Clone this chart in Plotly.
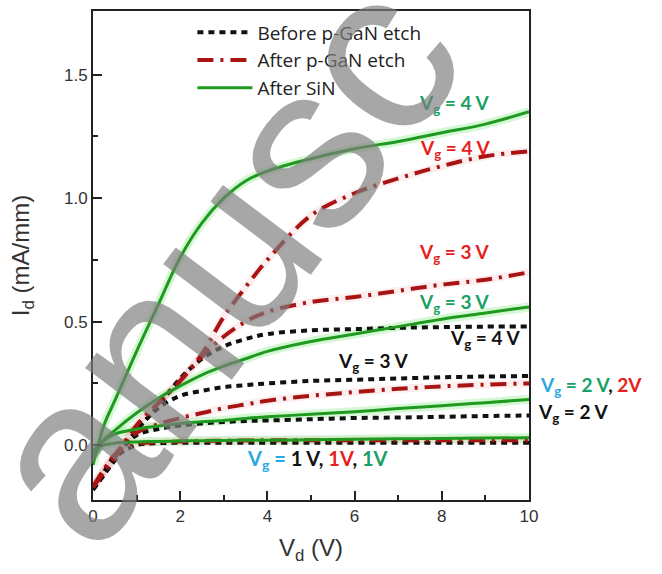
import plotly.graph_objects as go

# ---------------- data ----------------
vd = [0, 0.25, 0.5, 1, 1.5, 2, 2.5, 3, 3.5, 4, 5, 6, 7, 8, 9, 10]

# Before p-GaN etch (black dotted)
before_1v = [-0.18, -0.11, -0.05, 0.0, 0.008, 0.01, 0.01, 0.01, 0.01, 0.01, 0.01, 0.01, 0.01, 0.01, 0.01, 0.01]
before_2v = [-0.18, -0.11, -0.04, 0.04, 0.065, 0.08, 0.088, 0.094, 0.098, 0.10, 0.105, 0.11, 0.112, 0.115, 0.118, 0.12]
before_3v = [-0.18, -0.12, -0.06, 0.06, 0.15, 0.20, 0.22, 0.235, 0.243, 0.25, 0.26, 0.265, 0.27, 0.275, 0.278, 0.28]
before_4v = [-0.18, -0.12, -0.06, 0.06, 0.16, 0.27, 0.35, 0.40, 0.43, 0.45, 0.465, 0.47, 0.475, 0.478, 0.48, 0.48]

# After p-GaN etch (red dash-dot)
etch_1v = [-0.17, -0.10, -0.04, 0.005, 0.012, 0.015, 0.017, 0.018, 0.019, 0.02, 0.02, 0.02, 0.02, 0.02, 0.02, 0.02]
etch_2v = [-0.17, -0.10, -0.04, 0.05, 0.085, 0.11, 0.13, 0.15, 0.165, 0.18, 0.20, 0.215, 0.228, 0.238, 0.245, 0.25]
etch_3v = [-0.17, -0.11, -0.05, 0.08, 0.17, 0.26, 0.36, 0.44, 0.50, 0.54, 0.58, 0.60, 0.625, 0.65, 0.67, 0.70]
etch_4v = [-0.17, -0.11, -0.05, 0.08, 0.17, 0.26, 0.37, 0.52, 0.64, 0.75, 0.93, 1.02, 1.08, 1.13, 1.17, 1.19]

# After SiN (green solid)
sin_1v = [-0.02, 0.0, 0.008, 0.013, 0.015, 0.017, 0.018, 0.019, 0.02, 0.02, 0.022, 0.024, 0.026, 0.027, 0.029, 0.03]
sin_2v = [-0.03, 0.02, 0.045, 0.065, 0.078, 0.088, 0.095, 0.10, 0.108, 0.115, 0.125, 0.135, 0.148, 0.16, 0.172, 0.185]
sin_3v = [-0.05, 0.02, 0.06, 0.13, 0.19, 0.24, 0.285, 0.32, 0.35, 0.38, 0.42, 0.45, 0.48, 0.51, 0.535, 0.56]
sin_4v = [-0.08, 0.08, 0.18, 0.38, 0.57, 0.76, 0.90, 1.00, 1.07, 1.11, 1.16, 1.20, 1.23, 1.265, 1.30, 1.35]

legend_names = ["Before p-GaN etch", "After p-GaN etch", "After SiN"]
x_ticks = [0, 2, 4, 6, 8, 10]
y_ticks = [0.0, 0.5, 1.0, 1.5]
y_tick_text = ["0.0", "0.5", "1.0", "1.5"]

# ---------------- styles ----------------
BLACK = "#111111"
RED_LINE = "#a81414"
GREEN_LINE = "#1f9a1f"
GREEN_TXT = "#19a065"
RED_TXT = "#e61e1e"
BLUE_TXT = "#2aa8e0"

fig = go.Figure()

# glow under green / red lines
for ys in [sin_1v, sin_2v, sin_3v, sin_4v]:
    fig.add_trace(go.Scatter(x=vd, y=ys, mode="lines", showlegend=False, hoverinfo="skip",
                             line=dict(color="rgba(60,220,60,0.22)", width=9, shape="spline")))
for ys in [etch_1v, etch_2v, etch_3v, etch_4v]:
    fig.add_trace(go.Scatter(x=vd, y=ys, mode="lines", showlegend=False, hoverinfo="skip",
                             line=dict(color="rgba(240,120,120,0.12)", width=8, shape="spline")))

groups = [
    (legend_names[0], [before_1v, before_2v, before_3v, before_4v],
     dict(color=BLACK, width=4, dash="6px,5px", shape="spline")),
    (legend_names[1], [etch_1v, etch_2v, etch_3v, etch_4v],
     dict(color=RED_LINE, width=4, dash="16px,7px,3px,7px", shape="spline")),
    (legend_names[2], [sin_1v, sin_2v, sin_3v, sin_4v],
     dict(color=GREEN_LINE, width=3, shape="spline")),
]
for name, series, style in groups:
    for i, ys in enumerate(series):
        fig.add_trace(go.Scatter(x=vd, y=ys, mode="lines", name=name, legendgroup=name,
                                 showlegend=(i == 0), line=style))

def lab(text, x, y, size=19, xref="x"):
    fig.add_annotation(x=x, y=y, xref=xref, yref="y", text=text, showarrow=False,
                       font=dict(family="Lato", size=size, color=BLACK),
                       xanchor="center", yanchor="middle")

def c(t, col):
    return f"<span style='color:{col}'>{t}</span>"

lab(c("<b>V<sub>g</sub> = 4 V</b>", GREEN_TXT), 8.28, 1.38)
lab(c("<b>V<sub>g</sub> = 4 V</b>", RED_TXT), 8.30, 1.20)
lab(c("<b>V<sub>g</sub> = 3 V</b>", RED_TXT), 8.28, 0.78)
lab(c("<b>V<sub>g</sub> = 3 V</b>", GREEN_TXT), 8.28, 0.575)
lab(c("<b>V<sub>g</sub> = 4 V</b>", BLACK), 8.99, 0.43)
lab(c("<b>V<sub>g</sub> = 3 V</b>", BLACK), 6.42, 0.335)
lab(c("<b>V<sub>g</sub></b>", BLUE_TXT) + c("<b> = 2 V</b>", GREEN_TXT) + c("<b>, </b>", BLACK)
    + c("<b>2V</b>", RED_TXT), 1.142, 0.24, xref="paper")
lab(c("<b>V<sub>g</sub> = 2 V</b>", BLACK), 1.101, 0.13, xref="paper")
lab(c("<b>V<sub>g</sub> =</b>", BLUE_TXT) + c("<b> 1 V, </b>", BLACK) + c("<b>1V</b>", RED_TXT)
    + c("<b>, </b>", BLACK) + c("<b>1V</b>", GREEN_TXT), 5.16, -0.06, size=20)

# watermark fragment
fig.add_annotation(xref="paper", yref="paper", x=0.29, y=0.49, text="anusc",
                   showarrow=False, textangle=-53, xanchor="center", yanchor="middle",
                   font=dict(family="Liberation Sans", size=235, color="rgba(125,125,125,0.68)"))

axis_font = dict(family="Liberation Sans", size=17, color="#333333")
fig.update_xaxes(range=[0, 10], tickvals=x_ticks, ticks="inside", ticklen=9, tickwidth=1.5,
                 tickcolor="#222", showline=True, linecolor="#222", linewidth=2, mirror=True,
                 showgrid=False, zeroline=False, tickfont=axis_font,
                 minor=dict(tickvals=[1, 3, 5, 7, 9], ticks="inside", ticklen=5, tickwidth=1.5, tickcolor="#222"),
                 title=dict(text="V<sub>d</sub> (V)", font=dict(family="Liberation Sans", size=24, color="#333"),
                            standoff=14))
fig.update_yaxes(range=[-0.222, 1.758], tickvals=y_ticks, ticktext=y_tick_text, ticks="inside",
                 ticklen=9, tickwidth=1.5, tickcolor="#222", showline=True, linecolor="#222",
                 linewidth=2, mirror=True, showgrid=False, zeroline=False, tickfont=axis_font,
                 minor=dict(tickvals=[-0.25, 0.25, 0.75, 1.25], ticks="inside", ticklen=5, tickwidth=1.5, tickcolor="#222"),
                 title=dict(text="I<sub>d</sub> (mA/mm)", font=dict(family="Liberation Sans", size=24, color="#333"),
                            standoff=28))

fig.update_layout(
    width=662, height=574,
    margin=dict(l=93, r=133, t=9, b=74),
    plot_bgcolor="white", paper_bgcolor="white",
    legend=dict(x=0.228, y=0.995, xanchor="left", yanchor="top", bgcolor="rgba(0,0,0,0)",
                font=dict(family="Open Sans", size=19, color="#222"), tracegroupgap=0, itemwidth=55),
    showlegend=True,
)

fig.write_html("out.html")
